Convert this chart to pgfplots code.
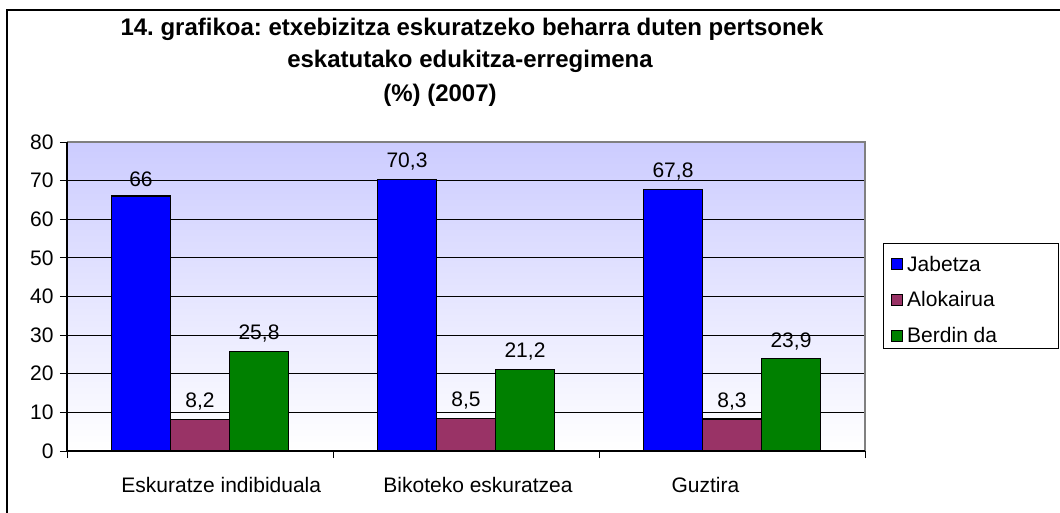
\documentclass[border=0pt]{standalone}
\usepackage{fontspec}
\setmainfont{Liberation Sans}
\usepackage{pgfplots}
\pgfplotsset{compat=1.18}
\definecolor{cblue}{RGB}{0,0,255}
\definecolor{cmaroon}{RGB}{153,51,102}
\definecolor{cgreen}{RGB}{0,128,0}
\definecolor{lav}{RGB}{204,204,255}
\definecolor{bordergray}{RGB}{128,128,128}
\pgfplotsset{/pgf/number format/assume math mode=true}
\frenchspacing
\begin{document}
\begin{tikzpicture}[x=1pt,y=1pt]
\path[use as bounding box] (0,0) rectangle (1060,512);
\draw[line width=2pt] (7,-5) -- (7,502) -- (1065,502);
\node[font=\fontsize{24}{28}\selectfont\bfseries] at (472,483) {14. grafikoa: etxebizitza eskuratzeko beharra duten pertsonek};
\node[font=\fontsize{24}{28}\selectfont\bfseries] at (470,451) {eskatutako edukitza-erregimena};
\node[font=\fontsize{24}{28}\selectfont\bfseries] at (440,417) {(\%) (2007)};
\begin{axis}[
  at={(67pt,61pt)}, anchor=south west,
  width=798pt, height=309pt, scale only axis,
  xmin=-0.5, xmax=2.5, ymin=0, ymax=80,
  ybar=0pt, bar width=59pt,
  axis line style={draw=none},
  axis background/.style={shade, top color=lav, bottom color=white},
  ytick={0,10,...,80},
  ymajorgrids, grid style={black, line width=1pt},
  xtick={-0.5,0.5,1.5,2.5}, xticklabels={},
  extra x ticks={0.08,1.045,1.9},
  extra x tick labels={Eskuratze indibiduala,Bikoteko eskuratzea,Guztira},
  extra x tick style={major tick length=0pt, grid=none,
     tick label style={yshift=-23pt}},
  tick align=outside, major tick length=7pt,
  tick style={black, line width=1pt},
  xtick pos=bottom, ytick pos=left,
  ticklabel style={font=\fontsize{21}{25}\selectfont},
  y tick label style={xshift=-3pt},
  nodes near coords,
  every node near coord/.append style={font=\fontsize{21}{25}\selectfont, yshift=5pt, black},
  /pgf/number format/use comma,
  legend style={draw=none, fill=none, at={(rel axis cs:1.032,0.632)}, anchor=north west,
     font=\fontsize{21}{25}\selectfont, row sep=19pt, inner sep=0pt,
     nodes={inner xsep=4.5pt, inner ysep=0pt}},
  legend cell align=left,
  legend image code/.code={\draw[#1,line width=1pt] (0pt,-5.5pt) rectangle (11pt,5.5pt);},
  clip=false,
]
\addplot[fill=cblue, draw=black, line width=1.2pt] coordinates {(0,66) (1,70.3) (2,67.8)};
\addplot[fill=cmaroon, draw=black, line width=1.2pt] coordinates {(0,8.2) (1,8.5) (2,8.3)};
\addplot[fill=cgreen, draw=black, line width=1.2pt] coordinates {(0,25.8) (1,21.2) (2,23.9)};
\legend{Jabetza,Alokairua,Berdin da}
\draw[bordergray, line width=1.5pt] (rel axis cs:0,1) -- (rel axis cs:1,1) -- (rel axis cs:1,0);
\draw[black, line width=1.5pt] (rel axis cs:0,1) -- (rel axis cs:0,0) -- (rel axis cs:1,0);
\end{axis}
\draw[line width=1pt] (883,164) rectangle (1058,268);
\end{tikzpicture}
\end{document}
